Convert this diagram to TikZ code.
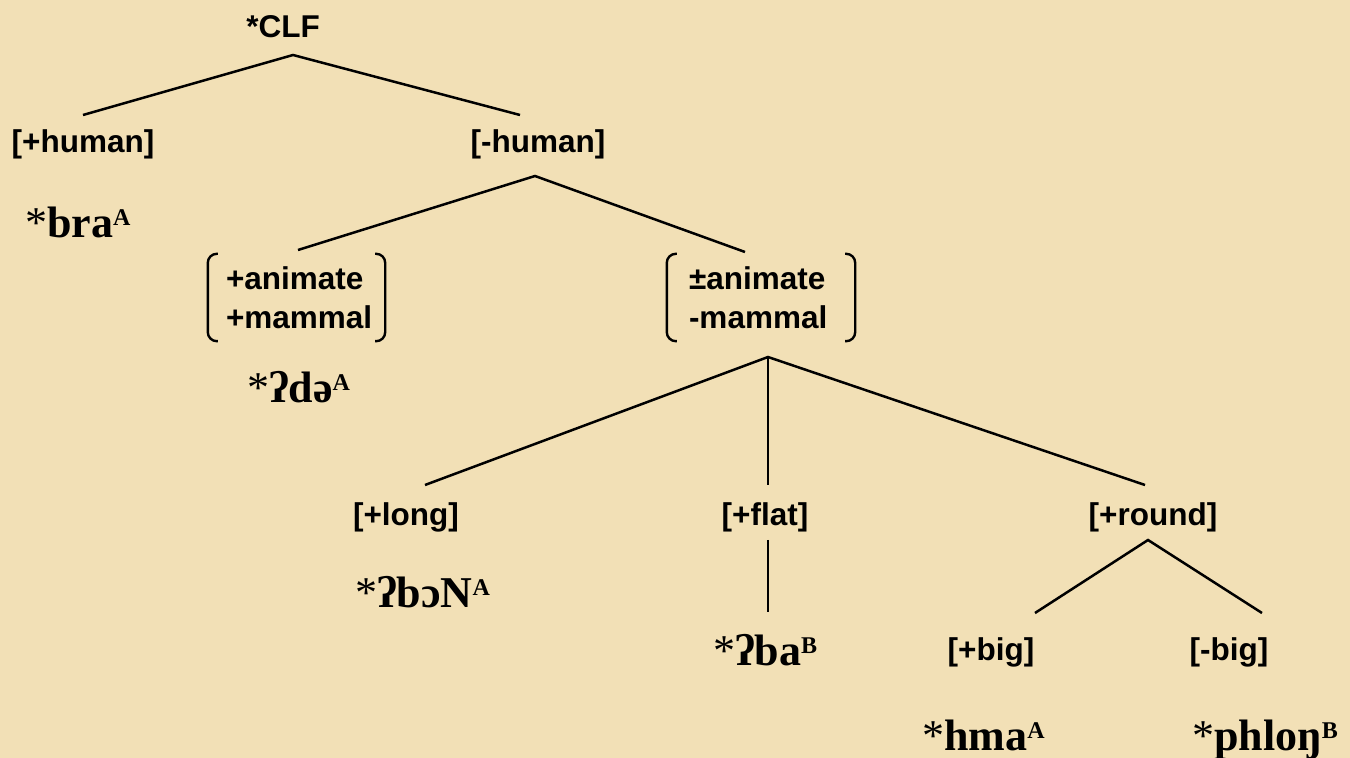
\documentclass[tikz,border=0pt]{standalone}
\usepackage{fontspec}
\setmainfont{Liberation Sans}
\newfontfamily\formfont{Liberation Serif}
\definecolor{bg}{HTML}{F2E0B6}
\newcommand\tonesup[1]{\raisebox{12pt}{\fontsize{24}{24}\selectfont #1}}
\newcommand\reconstar{{\mdseries *}}
\tikzset{
  lab/.style={font=\bfseries\fontsize{31.5}{39}\selectfont, inner sep=0pt},
  form/.style={font=\formfont\bfseries\fontsize{44}{48}\selectfont, inner sep=0pt, anchor=base west},
  frame/.style={inner sep=0pt},
  edge/.style={line width=2.5pt},
  brk/.style={line width=2.4pt, rounded corners=9pt}
}
\begin{document}
\begin{tikzpicture}[x=1pt,y=1pt]
\fill[bg] (0,0) rectangle (1350,758);
\useasboundingbox (0,0) rectangle (1350,758);

\node[lab] (clf) at (283,731) {*CLF};
\node[lab] (hplus) at (83,614) {[+human]};
\node[lab] (hminus) at (538,614) {[-human]};
\node[form] (bra) at (25,520) {\reconstar bra\tonesup{A}};

\node[frame, minimum width=177, minimum height=87] (anim) at (296.5,460.5) {};
\node[lab, anchor=west, align=left] (animtxt) at ([xshift=18]anim.west) {+animate\\+mammal};
\node[frame, minimum width=188, minimum height=87] (inan) at (761,460.5) {};
\node[lab, anchor=west, align=left] (inantxt) at ([xshift=22]inan.west) {±animate\\-mammal};

\node[form] (da) at (247,355) {\reconstar ʔdə\tonesup{A}};
\node[lab] (long) at (406,241) {[+long]};
\node[lab] (flat) at (765,241) {[+flat]};
\node[lab] (round) at (1153,241) {[+round]};
\node[form] (bon) at (355,150) {\reconstar ʔbɔN\tonesup{A}};
\node[form] (ba) at (713,92) {\reconstar ʔba\tonesup{B}};
\node[lab] (big) at (991,106) {[+big]};
\node[lab] (nbig) at (1229,106) {[-big]};
\node[form] (hma) at (922,8) {\reconstar hma\tonesup{A}};
\node[form] (phlon) at (1192,8) {\reconstar phloŋ\tonesup{B}};

% brackets
\foreach \f in {anim,inan}{
  \draw[brk] ([xshift=10]\f.north west) -- (\f.north west) -- (\f.south west) -- ([xshift=10]\f.south west);
  \draw[brk] ([xshift=-10]\f.north east) -- (\f.north east) -- (\f.south east) -- ([xshift=-10]\f.south east);
}

% connectors
\draw[edge] ([shift={(0,29)}]hplus.center) -- ([shift={(10,-28)}]clf.center) -- ([shift={(-18,29)}]hminus.center);
\draw[edge] ([shift={(1.5,47.5)}]anim.center) -- ([shift={(-3,-32)}]hminus.center) -- ([shift={(-16,45.5)}]inan.center);
\draw[edge] ([shift={(19,32)}]long.center) -- ([shift={(7,-59.5)}]inan.center) -- ([shift={(-8,32)}]round.center);
\draw[edge] ([shift={(7,-59.5)}]inan.center) -- ([shift={(3,32)}]flat.center);
\draw[edge] ([shift={(3,-23)}]flat.center) -- ([shift={(55,54)}]ba.base west);
\draw[edge] ([shift={(44,39)}]big.center) -- ([shift={(-5,-23)}]round.center) -- ([shift={(33,39)}]nbig.center);
\end{tikzpicture}
\end{document}
